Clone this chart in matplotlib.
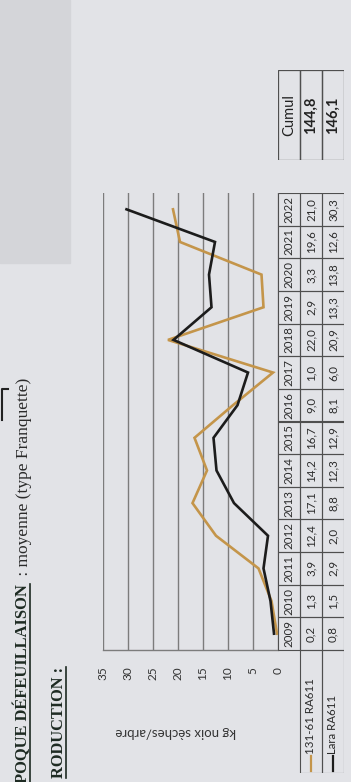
import matplotlib
matplotlib.use("Agg")
import matplotlib.pyplot as plt
from matplotlib.patches import Rectangle
from matplotlib.lines import Line2D

# yearly yield, kg of dry nuts per tree
years = list(range(2009, 2023))
ra_131 = [0.2, 1.3, 3.9, 12.4, 17.1, 14.2, 16.7, 9.0, 1.0, 22.0, 2.9, 3.3, 19.6, 21.0]
lara = [0.8, 1.5, 2.9, 2.0, 8.8, 12.3, 12.9, 8.1, 6.0, 20.9, 13.3, 13.8, 12.6, 30.3]
series_names = ["131-61 RA611", "Lara RA611"]
cumul = ["144,8", "146,1"]
value_ticks = [0, 5, 10, 15, 20, 25, 30, 35]

GOLD = "#c4954a"
BLACK = "#1c1c1c"
GRID = "#7c7c7c"
EDGE = "#4f4f4f"
PAPER = "#e2e3e7"

W, H = 351, 782
fig = plt.figure(figsize=(W / 100, H / 100), dpi=100, facecolor=PAPER)


def fbox(x0, y0, x1, y1):
    # pixel box (top-left origin) -> figure rect
    return [x0 / W, 1 - y1 / H, (x1 - x0) / W, (y1 - y0) / H]


# darker strip of the scanner bed on the left
fig.patches.append(Rectangle((0, 1 - 263 / H), 70 / W, 263 / H,
                             transform=fig.transFigure, color="#d4d5d9", zorder=0))

serif = ["Liberation Serif", "DejaVu Serif"]
sans = ["Lato", "DejaVu Sans"]

# headings, page is turned a quarter turn
h1 = fig.text(27 / W, 1 - 584 / H, "POQUE DÉFEUILLAISON", rotation=90,
              rotation_mode="anchor", ha="right", va="baseline",
              family=serif, weight="bold", size=11.9, color="#1d2a22")
fig.text(28 / W, 1 - 580 / H, " : moyenne (type Franquette)", rotation=90,
         rotation_mode="anchor", ha="left", va="baseline",
         family=serif, size=12.5, color="#2a2a2a")
h2 = fig.text(63 / W, 1 - 667 / H, "RODUCTION :", rotation=90,
              rotation_mode="anchor", ha="right", va="baseline",
              family=serif, weight="bold", size=11.8, color="#1d2a22")

# chart: values run right-to-left, years bottom-to-top
ax = fig.add_axes(fbox(103, 193, 278, 650))
ax.set_facecolor("none")
ax.plot(ra_131, years, color=GOLD, lw=1.9, solid_joinstyle="miter")
ax.plot(lara, years, color=BLACK, lw=1.9, solid_joinstyle="miter")
ax.set_xlim(35, 0)
ax.set_ylim(2008.5, 2022.5)
ax.set_xticks(value_ticks)
ax.set_yticks([])
ax.grid(axis="x", color=GRID, lw=1.0)
ax.tick_params(axis="x", length=0, pad=12, labelrotation=90, labelsize=8.5,
               labelcolor="#333333")
for lab in ax.get_xticklabels():
    lab.set_family(sans)
for side in ["top", "right", "left"]:
    ax.spines[side].set_visible(False)
ax.spines["bottom"].set_color(GRID)
ax.spines["bottom"].set_linewidth(1.0)

fig.text(176 / W, 1 - 732 / H, "kg noix sèches/arbre", rotation=180,
         ha="center", va="center", family=sans, size=9.5, color="#333333")

# data table under the chart
tab = fig.add_axes(fbox(278, 193, 344, 773))
tab.set_axis_off()
tab.set_xlim(0, 3)
yr_px = 457 / len(years)
tab.set_ylim(2022.5 - 580 / yr_px, 2022.5)


def py(ypx):
    return 2022.5 - (ypx - 193) / yr_px


rows = [[str(y) for y in years],
        [f"{v:.1f}".replace(".", ",") for v in ra_131],
        [f"{v:.1f}".replace(".", ",") for v in lara]]
for j, row in enumerate(rows):
    for yr, txt in zip(years, row):
        tab.add_patch(Rectangle((j, yr - 0.5), 1, 1, fill=False, ec=EDGE, lw=0.8))
        tab.text(j + 0.5, yr, txt, rotation=90, ha="center", va="center",
                 family=sans, size=8.3, color="#2b2b2b")

bottom = tab.get_ylim()[0]
for j, (name, col) in enumerate(zip(series_names, [GOLD, BLACK]), start=1):
    tab.add_patch(Rectangle((j, bottom), 1, 2008.5 - bottom, fill=False, ec=EDGE, lw=0.8))
    tab.plot([j + 0.5, j + 0.5], [py(771), py(756)], color=col, lw=1.6)
    tab.text(j + 0.5, py(754), name, rotation=90, rotation_mode="anchor",
             ha="left", va="center", family=sans, size=8.3, color="#2b2b2b")

# cumulative totals box
cb = fig.add_axes(fbox(278, 70, 344, 160))
cb.set_axis_off()
cb.set_xlim(0, 3)
cb.set_ylim(0, 1)
for j, txt in enumerate(["Cumul"] + cumul):
    cb.add_patch(Rectangle((j, 0), 1, 1, fill=False, ec=EDGE, lw=0.9))
    cb.text(j + 0.5, 0.5, txt, rotation=90, ha="center", va="center",
            family=sans, size=10.5, weight="bold" if j else "normal", color="#222222")

# underline the bold headings
fig.canvas.draw()
for t in (h1, h2):
    bb = t.get_window_extent()
    x = bb.x1 - 1
    fig.add_artist(Line2D([x / W, x / W], [bb.y0 / H, bb.y1 / H],
                          transform=fig.transFigure, color="#1d2a22", lw=1.2))

# edge of a framed box at the page margin
fig.add_artist(Line2D([8 / W, 1.5 / W, 1.5 / W], [1 - 389 / H, 1 - 389 / H, 1 - 420 / H],
                      transform=fig.transFigure, color="#222222", lw=1.5))

fig.savefig("out.png", dpi=100, facecolor=PAPER)
